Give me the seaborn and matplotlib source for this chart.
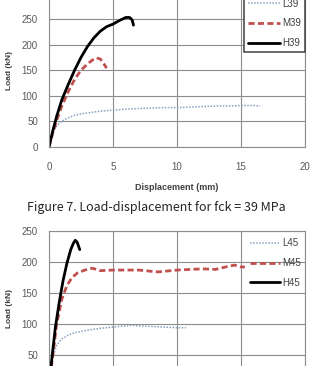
import numpy as np
import pandas as pd
import seaborn as sns
import matplotlib.pyplot as plt

# fck = 39 MPa
l39_x = [0, 0.2, 0.5, 0.9, 1.4, 2.0, 2.6, 3.2, 4.0, 5.0, 6.0, 7.0, 8.0, 9.0, 10.0, 11.0, 12.0, 13.0, 14.0, 15.0, 16.0, 16.5]
l39_y = [0, 22, 38, 49, 56, 62, 65, 67, 70, 72, 74, 75, 76, 77, 77, 78, 79, 80, 80, 81, 81, 80]
m39_x = [0, 0.3, 0.6, 1.0, 1.5, 2.0, 2.5, 3.0, 3.4, 3.7, 4.0, 4.2, 4.4, 4.5]
m39_y = [0, 28, 52, 80, 108, 132, 150, 162, 170, 174, 172, 166, 158, 154]
h39_x = [0, 0.3, 0.6, 1.0, 1.5, 2.0, 2.5, 3.0, 3.5, 4.0, 4.5, 5.0, 5.5, 6.0, 6.3, 6.5, 6.6]
h39_y = [0, 32, 60, 92, 122, 150, 175, 196, 213, 226, 235, 240, 247, 253, 253, 248, 238]

# fck = 45 MPa
l45_x = [0, 0.15, 0.3, 0.6, 1.0, 1.5, 2.0, 3.0, 4.0, 5.0, 6.0, 6.5, 7.0, 8.0, 9.0, 10.0, 10.7]
l45_y = [0, 30, 48, 66, 76, 82, 86, 90, 93, 95, 97, 98, 97, 96, 95, 94, 94]
m45_x = [0, 0.3, 0.6, 1.0, 1.4, 1.8, 2.2, 2.8, 3.4, 4.0, 5.0, 6.0, 7.0, 8.0, 8.5, 9.0, 10.0, 11.0, 12.0, 13.0, 14.0, 14.5, 15.0, 15.3]
m45_y = [0, 50, 100, 140, 162, 175, 182, 187, 190, 186, 187, 187, 187, 185, 184, 185, 187, 188, 189, 188, 193, 195, 192, 192]
h45_x = [0, 0.2, 0.5, 0.8, 1.1, 1.4, 1.7, 1.9, 2.05, 2.2, 2.3, 2.4]
h45_y = [0, 40, 95, 135, 170, 198, 220, 230, 235, 232, 226, 220]

x_ticks = [0, 5, 10, 15, 20]
y_ticks_top = [0, 50, 100, 150, 200, 250]
y_ticks_bot = [50, 100, 150, 200, 250]

sns.set_style('white')
plt.rcParams['font.family'] = ['Liberation Sans', 'DejaVu Sans']

fig = plt.figure(figsize=(3.11, 3.66), dpi=100)
W, H = 311, 366


def box(x0, y_top, x1, y_bot):
    return [x0 / W, 1 - y_bot / H, (x1 - x0) / W, (y_bot - y_top) / H]


ax1 = fig.add_axes(box(49, -6.6, 305, 147))
ax2 = fig.add_axes(box(49, 231, 305, 386))

styles = {
    'L': dict(color='#8aa2c0', lw=1.1, ls=(0, (1, 1))),
    'M': dict(color='#c0504d', lw=2.0, ls=(0, (2.2, 1.2))),
    'H': dict(color='black', lw=2.0, ls='-'),
}

top = [('L39', l39_x, l39_y, 'L'), ('M39', m39_x, m39_y, 'M'), ('H39', h39_x, h39_y, 'H')]
bot = [('L45', l45_x, l45_y, 'L'), ('M45', m45_x, m45_y, 'M'), ('H45', h45_x, h45_y, 'H')]

for ax, series, ylim, yt in [(ax1, top, 300, y_ticks_top), (ax2, bot, 250, y_ticks_bot)]:
    for name, xs, ys, k in series:
        df = pd.DataFrame({'x': xs, 'y': ys})
        sns.lineplot(data=df, x='x', y='y', ax=ax, label=name, sort=False,
                     estimator=None, **styles[k])
    ax.set_xlim(0, 20)
    ax.set_ylim(0, ylim)
    ax.set_xticks(x_ticks)
    ax.set_yticks(yt)
    ax.grid(True, color='#8c8c8c', lw=0.8)
    for s in ax.spines.values():
        s.set_color('#8c8c8c')
        s.set_linewidth(0.8)
    ax.tick_params(length=0, labelsize=7, colors='#595959', pad=8)
    ax.tick_params(axis='x', pad=11)
    ax.set_xlabel('')
    ax.set_ylabel('Load (kN)', fontsize=6, fontweight='bold', color='#404040', labelpad=6)

ax1.set_xlabel('Displacement (mm)', fontsize=6.5, fontweight='bold', color='#404040', labelpad=8)
ax2.tick_params(axis='x', labelbottom=False)

leg1 = ax1.legend(loc='lower right', fontsize=7, frameon=True, fancybox=False,
                  handlelength=3.3, handletextpad=0.2, borderpad=0.4, labelspacing=1.0,
                  borderaxespad=0, bbox_to_anchor=(1.0, 0.618))
leg1.get_frame().set_edgecolor('#404040')
leg1.get_frame().set_linewidth(1.1)
leg1.get_frame().set_alpha(1)
for t in leg1.get_texts():
    t.set_color('#404040')

leg2 = ax2.legend(loc='upper right', fontsize=7, frameon=False,
                  handlelength=3.1, handletextpad=0.25, labelspacing=1.0,
                  bbox_to_anchor=(1.02, 1.01))
for t in leg2.get_texts():
    t.set_color('#404040')

fig.text(156 / W, 1 - 207 / H, 'Figure 7. Load-displacement for fck = 39 MPa',
         ha='center', va='center', fontsize=9, family=['Noto Sans CJK KR', 'DejaVu Sans'])

fig.savefig('out.png', dpi=100)
